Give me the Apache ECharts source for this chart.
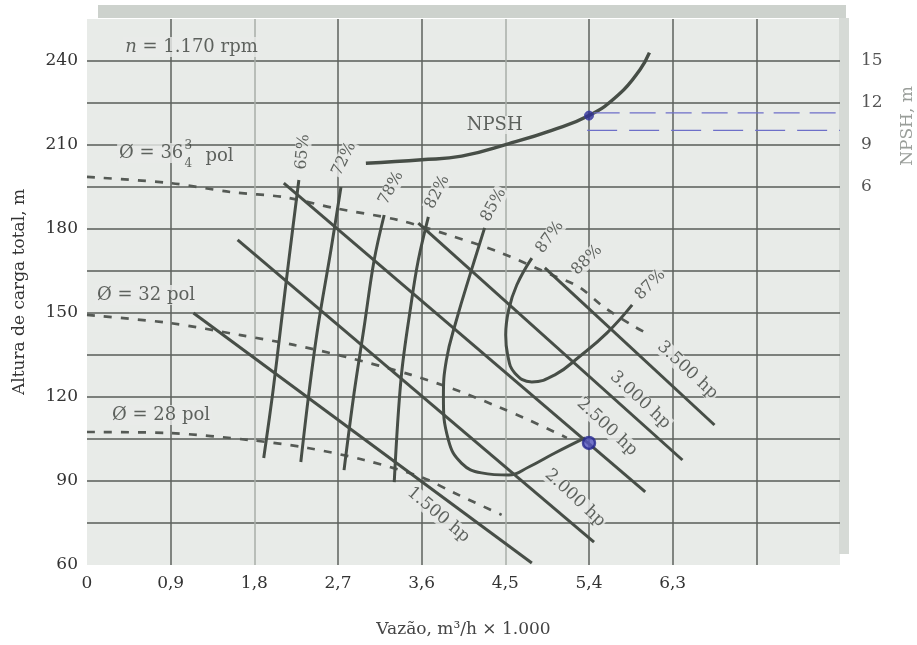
<!DOCTYPE html>
<html><head><meta charset="utf-8">
<script src="https://cdn.jsdelivr.net/npm/echarts@6/dist/echarts.min.js"></script>
<style>html,body{margin:0;padding:0;background:#fff}#c{width:917px;height:645px}</style>
</head><body><div id="c"></div>
<script>
// ---- axis ticks ----
const xTickLabels = [0, 0.9, 1.8, 2.7, 3.6, 4.5, 5.4, 6.3];
const headTickLabels = [60, 90, 120, 150, 180, 210, 240];
const npshTickLabels = [6, 9, 12, 15];

// ---- efficiency curves [Q (m3/h x1000), H (m)] ----
const eff65 = [[2.279,197.5],[2.171,168.9],[2.084,145.0],[1.998,121.4],[1.901,98.2]];
const eff72 = [[2.732,195.0],[2.624,172.5],[2.484,145.0],[2.387,121.4],[2.300,96.8]];
const eff78 = [[3.197,185.0],[3.089,168.9],[2.981,145.0],[2.873,121.4],[2.765,93.9]];
const eff82 = [[3.672,184.3],[3.564,168.9],[3.488,153.6],[3.380,127.1],[3.305,89.6]];
const eff85 = [[4.277,180.4],[4.136,165.4],[3.974,147.5],[3.866,133.2],[3.834,120.0],[3.888,104.6],[4.028,96.4],[4.244,92.9],[4.536,92.1],[4.752,95.0],[5.033,100.0],[5.357,105.4]];
const eff87 = [[4.785,169.6],[4.623,160.0],[4.536,151.1],[4.504,142.1],[4.525,135.0],[4.601,128.6],[4.785,125.4],[5.033,127.9],[5.292,134.3],[5.594,142.9],[5.864,152.9]];

// ---- power lines ----
const hp1500 = [[1.145,150.0],[4.785,60.7]];
const hp2000 = [[1.620,176.1],[5.454,68.2]];
const hp2500 = [[2.117,196.4],[6.005,86.1]];
const hp3000 = [[3.564,182.1],[6.405,97.5]];
const hp3500 = [[4.925,166.1],[6.750,110.0]];

// ---- impeller head curves (dashed) ----
const d3675 = [[0,198.6],[0.896,196.4],[1.544,193.2],[2.117,191.4],[2.657,187.5],[3.348,183.2],[3.888,177.9],[4.428,171.8],[5.0,163.6],[5.292,159.3],[5.573,151.8],[5.897,145.0],[6.059,142.1]];
const d32 = [[0,149.3],[0.896,146.4],[1.652,142.1],[2.225,138.6],[2.786,134.3],[3.488,127.9],[4.028,121.8],[4.428,116.4],[4.752,111.8],[5.162,105.4]];
const d28 = [[0,107.5],[0.896,107.1],[1.76,104.6],[2.376,101.8],[2.981,97.5],[3.596,91.4],[3.953,85.7],[4.46,77.9]];

// ---- NPSH curve [Q, NPSH (m)] ----
const npsh = [[3.0,7.7],[3.6,7.95],[4.03,8.2],[4.54,9.1],[5.0,10.05],[5.4,11.1],[5.72,12.6],[5.95,14.4],[6.05,15.6]];

// ---- hand marks ----
const blueDotHead = [[5.4,103.6]];
const blueDotNpsh = [[5.4,11.1]];
const blueLine1 = [[5.45,11.3],[8.1,11.3]];
const blueLine2 = [[5.38,10.05],[8.1,10.05]];

// ---- labels [text, Q, H, rotate] ----
const effLabels = [['65%',2.322,207.5,85],['72%',2.765,205.0,64],['78%',3.272,194.6,62],['82%',3.769,193.2,63],['85%',4.374,188.6,61],['87%',4.979,177.1,54],['88%',5.378,168.9,45],['87%',6.059,160.0,45]];
const powerLabels = [['1.500 hp',3.780,77.9,-40],['2.000 hp',5.249,83.9,-43],['2.500 hp',5.594,109.3,-43],['3.000 hp',5.951,118.9,-43],['3.500 hp',6.459,129.6,-43]];
const noteLabels = [['{i|n} = 1.170 rpm',0.389,245.0],['Ø = 36',0.324,207.1],['pol',1.253,206.1],['Ø = 32 pol',0.086,156.4],['Ø = 28 pol',0.248,113.6]];
const fracLabels = [['3',1.09,209.8],['4',1.09,203.4]];
const npshLabel = [['NPSH',4.385,217.1]];

const FONT = 'DejaVu Serif';
const INK = '#474e47';
const PLOTBG = '#e8ebe8';

function line(name, data, opts) {
  return Object.assign({
    type:'line', name, data, symbol:'none', silent:true, smooth:0.35,
    lineStyle:{color:INK, width:3}, z:3
  }, opts || {});
}
function dashed(name, data) {
  return line(name, data, {smooth:0.3, lineStyle:{color:'#555a55', width:2.7, type:[8,9]}, z:2});
}
function labelSeries(name, arr, size, extra, yIndex) {
  return {
    type:'scatter', name, symbolSize:0, silent:true, yAxisIndex:yIndex||0, z:5,
    data: arr.map(a => ({
      value:[a[1], a[2]],
      label:Object.assign({
        show:true, position:'inside', formatter:a[0], rotate:a[3]||0,
        fontFamily:FONT, fontSize:size, color:'#3a3f3a'
      }, extra || {})
    }))
  };
}

const chart = echarts.init(document.getElementById('c'), null, {renderer:'canvas'});
const vColors = ['transparent','#5e625e','#a9aea9','#5e625e','#5e625e','#a9aea9','#5e625e','#5e625e','#5e625e','transparent'];
const hColors = ['transparent'].concat(Array(12).fill('#585c58')).concat(['transparent']);

chart.setOption({
  backgroundColor:'#ffffff',
  animation:false,
  grid:{left:87, right:77, top:19, bottom:80, show:true, backgroundColor:PLOTBG, borderWidth:0},
  xAxis:{
    type:'value', min:0, max:8.1, interval:0.9,
    name:'Vazão, m³/h × 1.000', nameLocation:'middle', nameGap:56,
    nameTextStyle:{fontFamily:FONT, fontSize:17, color:'#444'},
    axisLine:{show:false}, axisTick:{show:false},
    axisLabel:{fontFamily:FONT, fontSize:17, color:'#333', margin:10,
      formatter:v => {
        const ok = xTickLabels.some(t => Math.abs(t - v) < 1e-6);
        if (!ok) return '';
        return v === 0 ? '0' : v.toFixed(1).replace('.', ',');
      }},
    splitLine:{show:true, lineStyle:{color:vColors, width:1.5}}
  },
  yAxis:[{
    type:'value', min:60, max:255, interval:15,
    name:'Altura de carga total, m', nameLocation:'middle', nameGap:59, nameRotate:90,
    nameTextStyle:{fontFamily:FONT, fontSize:17, color:'#333'},
    axisLine:{show:false}, axisTick:{show:false},
    axisLabel:{fontFamily:FONT, fontSize:17, color:'#333', margin:9,
      formatter:v => headTickLabels.indexOf(Math.round(v)) >= 0 ? String(Math.round(v)) : ''},
    splitLine:{show:true, lineStyle:{color:hColors, width:1.6}}
  },{
    type:'value', min:-21, max:18, interval:3, position:'right',
    axisLine:{show:false}, axisTick:{show:false}, splitLine:{show:false},
    axisLabel:{fontFamily:FONT, fontSize:17, color:'#555', margin:21,
      formatter:v => npshTickLabels.indexOf(Math.round(v)) >= 0 ? String(Math.round(v)) : ''}
  }],
  graphic:[
    {type:'rect', shape:{x:98, y:5, width:748, height:13}, style:{fill:'#cdd2cd'}, silent:true},
    {type:'rect', shape:{x:839, y:18, width:10, height:536}, style:{fill:'#d6dad6'}, silent:true},
    {type:'text', x:908, y:126, rotation:Math.PI/2, style:{text:'NPSH, m', fontFamily:FONT, fontSize:17, fill:'#9a9e9a', align:'center', verticalAlign:'middle'}, silent:true}
  ],
  series:[
    dashed('Ø 36 3/4', d3675),
    dashed('Ø 32', d32),
    dashed('Ø 28', d28),
    line('1500 hp', hp1500, {smooth:false}),
    line('2000 hp', hp2000, {smooth:false}),
    line('2500 hp', hp2500, {smooth:false}),
    line('3000 hp', hp3000, {smooth:false}),
    line('3500 hp', hp3500, {smooth:false}),
    line('65%', eff65), line('72%', eff72), line('78%', eff78), line('82%', eff82),
    line('85%', eff85, {smooth:0.45}), line('87%', eff87, {smooth:0.45}),
    line('NPSH', npsh, {yAxisIndex:1, smooth:0.45, lineStyle:{color:INK, width:3.4}}),
    line('blue1', blueLine1, {yAxisIndex:1, smooth:false, lineStyle:{color:'#6d6fc8', width:1.2, type:[26,10]}, z:4}),
    line('blue2', blueLine2, {yAxisIndex:1, smooth:false, lineStyle:{color:'#6d6fc8', width:1.2, type:[30,12]}, z:4}),
    {type:'scatter', name:'dot1', data:blueDotHead, symbolSize:12, silent:true, z:6,
      itemStyle:{color:'#5556c0', borderColor:'#26288f', borderWidth:2.5}},
    {type:'scatter', name:'dot2', data:blueDotNpsh, yAxisIndex:1, symbolSize:9, silent:true, z:6,
      itemStyle:{color:'#2f3196', borderColor:'#3a3ca8', borderWidth:1}},
    labelSeries('eff labels', effLabels, 16, {backgroundColor:PLOTBG, padding:[0,1]}),
    labelSeries('power labels', powerLabels, 17, {backgroundColor:PLOTBG, padding:[0,1]}),
    labelSeries('notes', noteLabels, 18, {
      align:'left', verticalAlign:'middle', backgroundColor:PLOTBG, padding:[1,2],
      rich:{i:{fontFamily:FONT, fontSize:18, fontStyle:'italic', color:'#3a3f3a'}}
    }),
    labelSeries('fraction', fracLabels, 12, {color:'#3a3f3a'})
    ,labelSeries('npsh label', npshLabel, 18, {backgroundColor:PLOTBG})
  ]
});
</script></body></html>
